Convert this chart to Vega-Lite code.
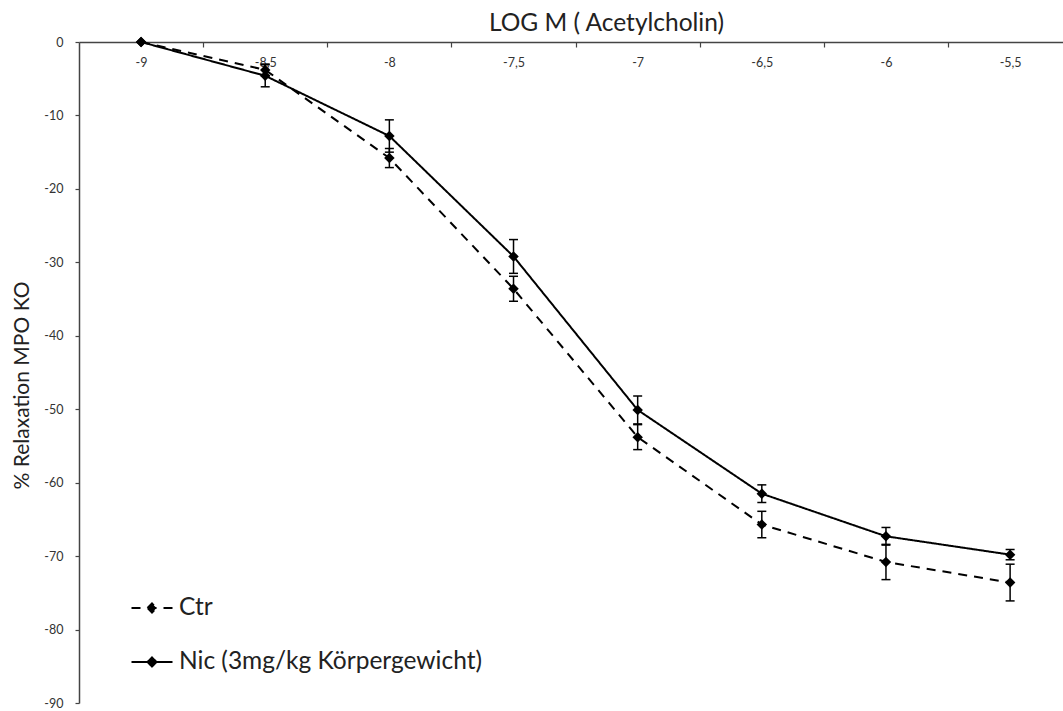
{
  "$schema": "https://vega.github.io/schema/vega-lite/v6.json",
  "width": 984,
  "height": 661,
  "autosize": {"type": "none"},
  "padding": {"left": 79, "top": 42, "right": 0, "bottom": 8},
  "background": "white",
  "config": {
    "view": {"stroke": null},
    "font": "Lato",
    "axis": {"grid": false, "domainColor": "#444", "domainWidth": 1.5, "tickColor": "#444", "tickWidth": 1.2, "labelFont": "Lato", "labelColor": "#333", "labelFontSize": 12.5, "titleFont": "Lato", "titleFontWeight": "normal", "titleColor": "#222", "titleFontSize": 21},
    "axisY": {"tickSize": 4, "labelPadding": 12, "tickCount": 10, "labelExpr": "toString(datum.value)", "titleAngle": -90, "titleX": -57, "titleY": 343, "titleAlign": "center", "titleBaseline": "middle"}
  },
  "data": {
    "values": [
      {"series": "Ctr", "logM": -9, "pct": 0, "lo": null, "hi": null},
      {"series": "Ctr", "logM": -8.5, "pct": -3.8, "lo": -4.6, "hi": -3.0},
      {"series": "Ctr", "logM": -8, "pct": -15.8, "lo": -17.1, "hi": -14.5},
      {"series": "Ctr", "logM": -7.5, "pct": -33.6, "lo": -35.3, "hi": -31.9},
      {"series": "Ctr", "logM": -7, "pct": -53.8, "lo": -55.5, "hi": -52.1},
      {"series": "Ctr", "logM": -6.5, "pct": -65.7, "lo": -67.5, "hi": -63.9},
      {"series": "Ctr", "logM": -6, "pct": -70.8, "lo": -73.2, "hi": -68.4},
      {"series": "Ctr", "logM": -5.5, "pct": -73.6, "lo": -76.1, "hi": -71.1},
      {"series": "Nic (3mg/kg Körpergewicht)", "logM": -9, "pct": 0, "lo": null, "hi": null},
      {"series": "Nic (3mg/kg Körpergewicht)", "logM": -8.5, "pct": -4.6, "lo": -6.1, "hi": -3.1},
      {"series": "Nic (3mg/kg Körpergewicht)", "logM": -8, "pct": -12.8, "lo": -15.0, "hi": -10.6},
      {"series": "Nic (3mg/kg Körpergewicht)", "logM": -7.5, "pct": -29.2, "lo": -31.5, "hi": -26.9},
      {"series": "Nic (3mg/kg Körpergewicht)", "logM": -7, "pct": -50.1, "lo": -52.0, "hi": -48.2},
      {"series": "Nic (3mg/kg Körpergewicht)", "logM": -6.5, "pct": -61.5, "lo": -62.7, "hi": -60.3},
      {"series": "Nic (3mg/kg Körpergewicht)", "logM": -6, "pct": -67.3, "lo": -68.5, "hi": -66.1},
      {"series": "Nic (3mg/kg Körpergewicht)", "logM": -5.5, "pct": -69.8, "lo": -70.5, "hi": -69.1}
    ]
  },
  "encoding": {
    "x": {
      "field": "logM",
      "type": "quantitative",
      "scale": {"domain": [-9.25, -5.287], "nice": false, "zero": false},
      "axis": {
        "orient": "bottom",
        "offset": -661,
        "values": [-9, -8.5, -8, -7.5, -7, -6.5, -6, -5.5],
        "tickOffset": 62,
        "labelOffset": -62,
        "tickSize": 5,
        "labelPadding": 9,
        "labelFlush": false,
        "labelOverlap": false,
        "labelExpr": "replace(toString(datum.value), '.', ',')",
        "title": "LOG M ( Acetylcholin)",
        "titleFontSize": 24.5,
        "titleX": 527,
        "titleY": -12,
        "titleAlign": "center",
        "titleBaseline": "alphabetic"
      }
    }
  },
  "layer": [
    {
      "mark": {"type": "line", "color": "black", "strokeWidth": 2},
      "encoding": {
        "y": {"field": "pct", "type": "quantitative", "title": "% Relaxation MPO KO", "scale": {"domain": [-90, 0], "nice": false}},
        "strokeDash": {
          "field": "series",
          "type": "nominal",
          "scale": {"domain": ["Ctr", "Nic (3mg/kg Körpergewicht)"], "range": [[9, 7], [1, 0]]},
          "legend": {
            "orient": "none",
            "legendX": 51.5,
            "legendY": 544.5,
            "title": null,
            "symbolType": "M-1,0L1,0M-0.22,0L0,-0.22L0.22,0L0,0.22Z",
            "symbolSize": 1681,
            "symbolStrokeWidth": 2,
            "symbolStrokeColor": "black",
            "symbolFillColor": "black",
            "labelFont": "Lato",
            "labelFontSize": 24.5,
            "labelColor": "#222",
            "labelOffset": 5.5,
            "labelLimit": 600,
            "rowPadding": 21
          }
        }
      }
    },
    {
      "mark": {"type": "rule", "color": "black", "strokeWidth": 1.5},
      "encoding": {
        "y": {"field": "lo", "type": "quantitative", "title": "% Relaxation MPO KO"},
        "y2": {"field": "hi"}
      }
    },
    {
      "mark": {"type": "tick", "orient": "horizontal", "size": 9, "thickness": 1.5, "color": "black", "opacity": 1},
      "encoding": {
        "y": {"field": "lo", "type": "quantitative", "title": "% Relaxation MPO KO"}
      }
    },
    {
      "mark": {"type": "tick", "orient": "horizontal", "size": 9, "thickness": 1.5, "color": "black", "opacity": 1},
      "encoding": {
        "y": {"field": "hi", "type": "quantitative", "title": "% Relaxation MPO KO"}
      }
    },
    {
      "mark": {"type": "point", "shape": "diamond", "filled": true, "size": 110, "color": "black", "opacity": 1},
      "encoding": {
        "y": {"field": "pct", "type": "quantitative", "title": "% Relaxation MPO KO"}
      }
    }
  ]
}
